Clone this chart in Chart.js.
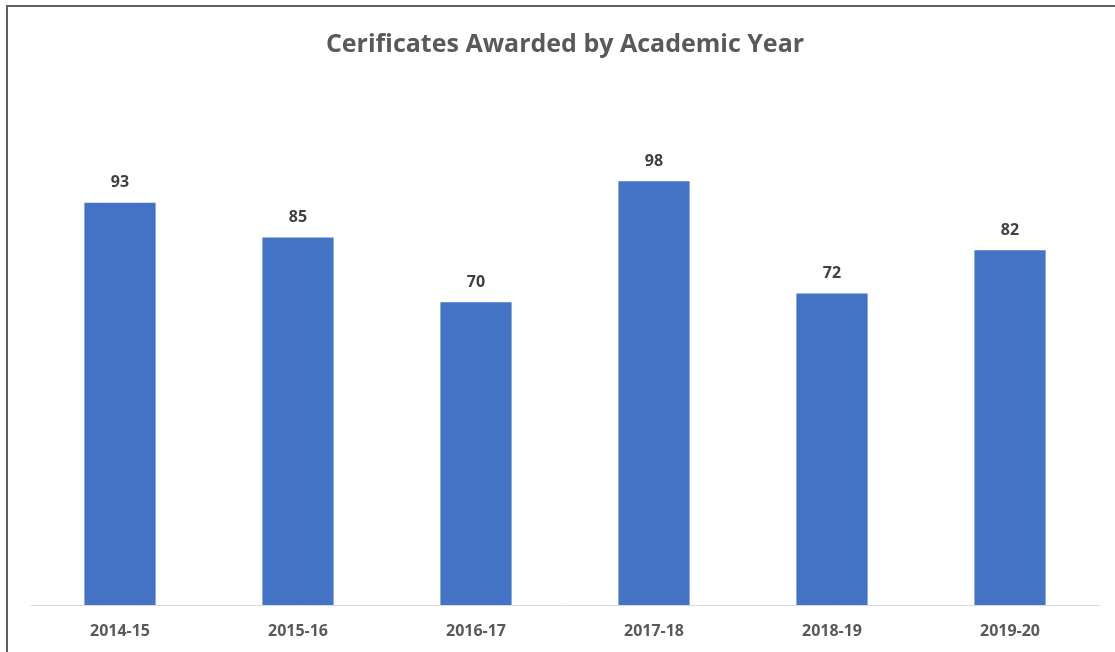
<!DOCTYPE html>
<html>
<head>
<meta charset="utf-8">
<script src="https://cdn.jsdelivr.net/npm/chart.js@4.4.1/dist/chart.umd.min.js"></script>
<style>
  html, body { margin: 0; padding: 0; background: #fff; overflow: hidden; }
  #wrap { position: relative; width: 1115px; height: 652px; }
  #frame { position: absolute; left: 6px; top: 5px; width: 1200px; height: 700px;
           border-left: 2px solid #5f5f5f; border-top: 2px solid #5f5f5f; pointer-events: none; }
</style>
</head>
<body>
<div id="wrap">
  <canvas id="chart" width="1115" height="652"></canvas>
  <div id="frame"></div>
</div>
<script>
const years = ['2014-15', '2015-16', '2016-17', '2017-18', '2018-19', '2019-20'];
const certificates = [93, 85, 70, 98, 72, 82];
const yMax = 120;

// values above the bars
const barLabels = {
  id: 'barLabels',
  afterDatasetsDraw(chart) {
    const ctx = chart.ctx;
    const meta = chart.getDatasetMeta(0);
    ctx.save();
    ctx.font = 'bold 16px "Open Sans", sans-serif';
    ctx.fillStyle = '#404040';
    ctx.textAlign = 'center';
    ctx.textBaseline = 'middle';
    meta.data.forEach((bar, i) => {
      ctx.fillText(certificates[i], bar.x, bar.y - 20);
    });
    ctx.restore();
  }
};

new Chart(document.getElementById('chart'), {
  type: 'bar',
  data: {
    labels: years,
    datasets: [{
      data: certificates,
      backgroundColor: '#4472C4',
      categoryPercentage: 1,
      barPercentage: 0.4
    }]
  },
  options: {
    responsive: false,
    animation: false,
    layout: { padding: { left: 31, right: 16, top: 0, bottom: 0 } },
    plugins: {
      legend: { display: false },
      tooltip: { enabled: false },
      title: {
        display: true,
        text: 'Cerificates Awarded by Academic Year',
        color: '#595959',
        font: { family: '"Open Sans", sans-serif', size: 25, weight: 'bold', lineHeight: 1.2 },
        padding: { top: 30, bottom: 26 }
      }
    },
    scales: {
      x: {
        grid: { display: false, drawTicks: false, tickLength: 0 },
        border: { display: true, color: '#d9d9d9', width: 1 },
        ticks: {
          color: '#595959',
          padding: 17,
          font: { family: '"Open Sans", sans-serif', size: 16, weight: 'bold', lineHeight: 1.2 }
        },
        afterFit(scale) { scale.height = 47; }
      },
      y: {
        display: false,
        min: 0,
        max: yMax
      }
    }
  },
  plugins: [barLabels]
});
</script>
</body>
</html>
